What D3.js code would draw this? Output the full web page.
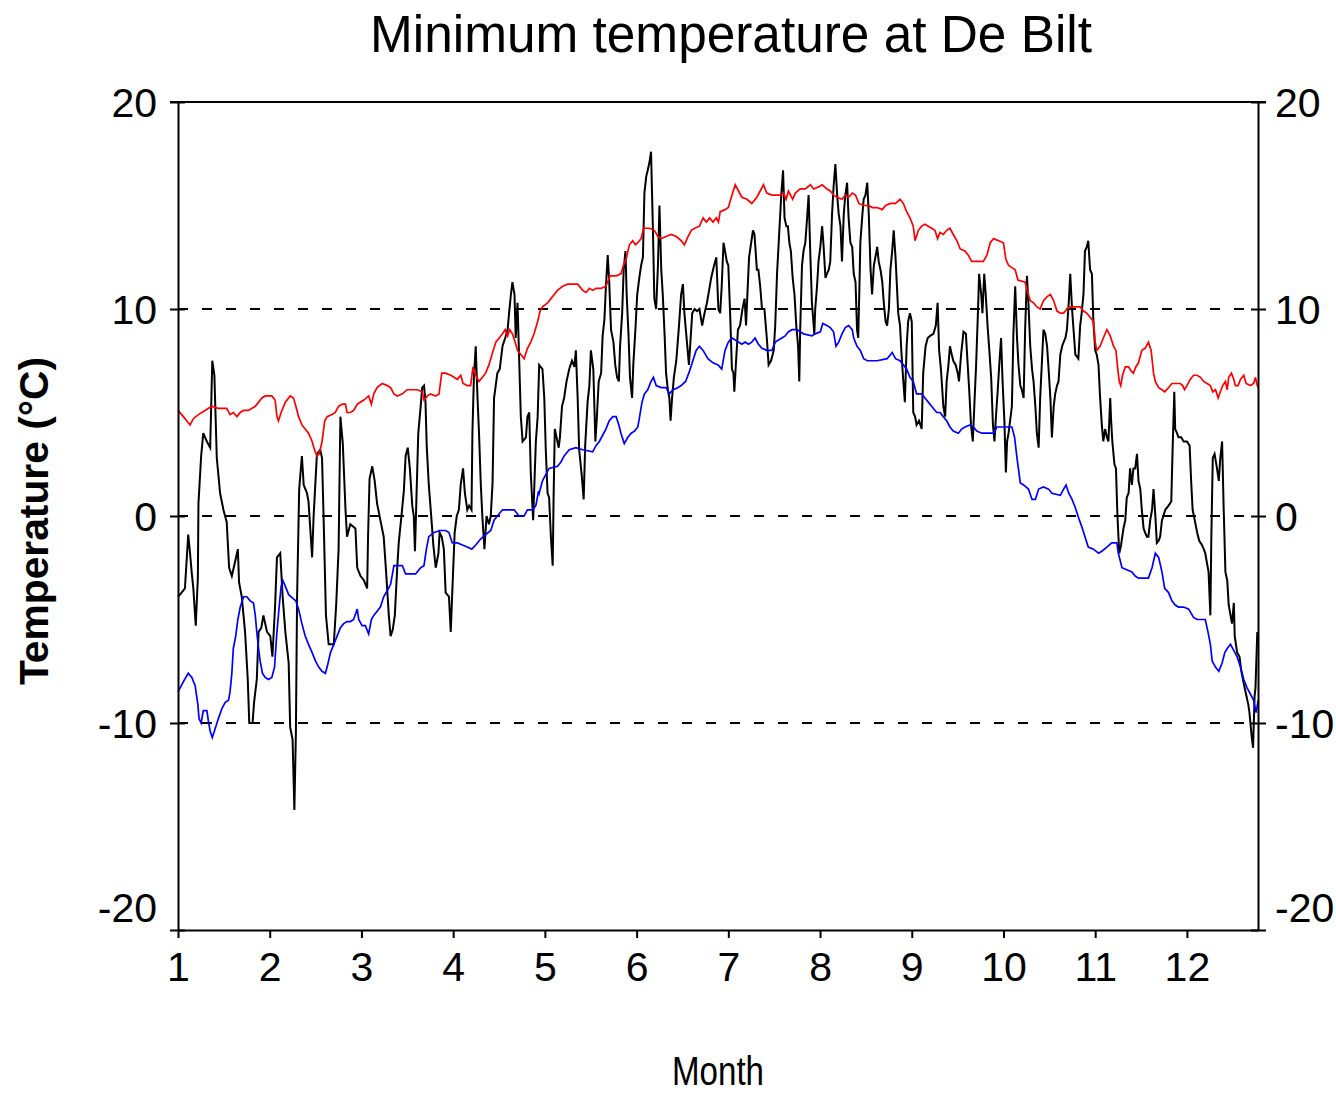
<!DOCTYPE html>
<html>
<head>
<meta charset="utf-8">
<script src="https://cdn.jsdelivr.net/npm/d3@7"></script>
<style>
  body { margin: 0; background: #fff; }
  text { font-family: "Liberation Sans", Arial, sans-serif; fill: #000; }
</style>
</head>
<body>
<div class="canvas"></div>
<script>
// tick values
const months = [1, 2, 3, 4, 5, 6, 7, 8, 9, 10, 11, 12];
const tempTicks = [-20, -10, 0, 10, 20];
const gridTemps = [-10, 0, 10];

// [day of year (0 = 1 Jan), temperature °C]
const dailyMin = [
  [0,-3.9],[1.2,-3.7],[2.3,-3.5],[3.4,-0.9],[4,-1.8],[4.6,-2.8],[5.1,-3.5],[5.9,-5.3],[6.6,-3],[6.8,0.6],
  [7.7,2.9],[8.4,4],[9.6,3.6],[10.7,3.3],[11.4,7.5],[12.1,6.8],[12.9,2.8],[14,1.1],[15.1,0.3],[16.2,-0.3],
  [17,-2.5],[17.9,-2.9],[19,-2.2],[19.9,-1.6],[20.3,-3.2],[21.2,-3.9],[22.3,-5.6],[23.2,-7.9],[23.7,-10],[24.8,-10],
  [25.3,-9],[26.2,-7.9],[26.8,-5.6],[27.7,-5.4],[28.4,-4.8],[29.6,-5.6],[30.7,-5.8],[31.4,-6.8],[32.3,-4.3],[32.9,-2],
  [34,-1.8],[34.8,-3.9],[35.7,-5.6],[36.8,-7.1],[37.3,-10.2],[38.1,-10.8],[38.7,-14.2],[39.2,-10.5],[39.6,-3.9],[40.3,1.3],
  [41.2,2.9],[41.8,1.5],[42.9,1.1],[43.4,0.7],[44.6,-2],[45.1,0],[46.2,3],[47.3,3.2],[47.9,2.8],[48.4,0],
  [49.2,-4.8],[50.1,-6.2],[51.8,-6.2],[52.6,-4.3],[53.4,-1.6],[54,4.8],[54.8,3.5],[55.7,0.3],[56.2,-1],[57.3,-0.4],
  [59,-0.6],[59.6,-2.5],[60.7,-2.9],[61.8,-3.1],[62.9,-3.5],[63.2,-1],[63.7,1.8],[64.6,2.4],[65.4,1.7],[66.2,0.6],
  [67.3,-0.2],[68.4,-1],[69.2,-2.7],[70.1,-4.8],[70.7,-5.8],[71.4,-5.5],[72.1,-4.8],[72.9,-2.5],[73.4,-1.3],[74.3,0],
  [75.1,1.2],[75.7,2.9],[76.4,3.3],[77.1,2.3],[77.9,0.5],[78.4,0],[78.8,-1.7],[79.3,0.9],[79.9,4],[80.7,5.3],
  [81.2,6.2],[81.8,6.3],[82.3,5.5],[82.7,3.4],[83.4,1.5],[84.3,-0.2],[84.9,-1.4],[85.7,-2.5],[86.6,-1.8],[87,-0.8],
  [87.7,-1],[88.4,-1.6],[89,-3.7],[90.1,-3.9],[90.7,-5.6],[91.2,-3.7],[92,-0.8],[92.7,0],[93.4,0.3],[94,1.5],
  [94.8,2.3],[95.4,1.1],[96.2,0.3],[96.8,0.5],[97.6,0.3],[97.9,4],[98.4,6.7],[99,8.2],[99.6,5.7],[100.1,4],
  [100.7,1.5],[101.2,0],[101.9,-1.6],[102.6,0],[103.4,-0.4],[104,0],[104.6,1.6],[105.1,5.7],[106.2,6.9],[107,7.1],
  [107.9,8.2],[108.8,8.6],[109.6,9],[110.1,9.8],[110.7,10.7],[111.2,11.3],[111.9,10.7],[112.3,8.6],[112.9,10.3],[113.4,7.8],
  [114,4.8],[114.6,3.6],[115.7,3.8],[116.2,4.8],[116.8,5],[117.3,2.1],[118.1,-0.2],[119,3.6],[119.6,4.8],[120.1,7.3],
  [121.2,7.1],[121.8,5.7],[122.3,3.2],[122.9,1.1],[123.4,0.9],[124,-1],[124.6,-2.4],[124.9,0.9],[125.3,4.2],[125.9,3.8],
  [126.6,3.3],[127,3.8],[127.7,5.3],[128.4,5.7],[129.2,6.5],[130.1,7.1],[131,7.5],[131.8,7.2],[132.3,8],[132.9,5.7],
  [133.4,3.2],[134.3,1.9],[134.9,0.8],[135.4,3.4],[136.2,5.5],[136.8,6.3],[137.3,8],[138.1,7.1],[138.8,3.6],[139.3,4.8],
  [139.9,6.5],[140.7,6.9],[141.2,8.7],[141.8,9.5],[142.3,11.1],[142.9,12.6],[143.4,11.3],[144,9],[144.8,8.4],[145.4,7.3],
  [146,6.7],[146.6,6.5],[147,8.2],[147.7,9.8],[148.2,11.9],[148.8,12.8],[149.2,10.7],[149.8,8.8],[150.3,6.7],[151,5.7],
  [151.4,7.3],[152.1,9],[152.7,10.7],[153.4,11.5],[154,12.1],[154.6,12.5],[155.1,15.6],[155.7,16.4],[156.2,16.7],[156.8,17.1],
  [157.3,17.6],[157.9,14],[158.4,10.5],[159,10],[159.6,12.1],[160.1,15],[160.7,11.9],[161.2,10.7],[161.8,8.8],[162.3,6.9],
  [162.9,6.1],[163.4,5.7],[163.8,4.6],[164.3,5.7],[164.9,6.7],[165.7,7.5],[166.6,9.2],[167.3,10.7],[167.9,11.2],[168.4,9.8],
  [169,8.8],[169.9,7.3],[170.3,8.2],[171,9.8],[171.8,10],[172.6,9.9],[173.4,10],[174.3,9.2],[175.1,9.8],[175.9,10.3],
  [176.6,10.9],[177.3,11.5],[178.1,12],[179,12.5],[179.7,10],[180.3,9.8],[180.8,11.1],[181.4,13.2],[181.9,12.8],[182.5,12.3],
  [183,12.1],[183.6,9.8],[184.2,7.1],[184.7,6.9],[185,6],[185.5,7.3],[186.2,9],[186.9,9.2],[187.7,10],[188.4,10.5],
  [188.9,9.2],[189.4,10.9],[189.9,12.5],[190.6,13.2],[191.2,13.8],[191.7,13.6],[192.5,11.9],[193,11.9],[193.6,11.1],[194.2,10],
  [195,10],[195.8,8.6],[196.4,7.3],[197.2,7.5],[198.1,8],[198.6,9.2],[199.2,11.7],[199.9,13.6],[200.6,15.5],[201.2,16.7],
  [201.7,14.4],[202.3,14],[202.8,14],[203.3,13.2],[203.8,12.8],[204.4,11.5],[205,10.7],[205.6,9.2],[206.2,8.2],[206.6,6.5],
  [206.9,9],[207.5,12.1],[208,12.8],[208.6,13.2],[209.2,14.4],[209.7,15.5],[210.3,12.5],[210.8,10.3],[211.6,8.8],[211.9,10],
  [212.5,11.1],[213,12.3],[213.6,13],[214.2,14],[214.7,13],[215.3,11.5],[215.8,11.7],[216.4,11.9],[216.9,12.3],[217.5,14.6],
  [218,15.9],[218.6,17],[219.2,15.5],[219.7,14.6],[220.3,14],[220.8,12.3],[221.4,14.6],[221.9,15.5],[222.5,16.1],[223,14.4],
  [223.6,13.2],[224.2,13],[224.7,11.7],[225.3,11.3],[225.8,9],[226.2,8.6],[226.6,11.1],[226.9,13.2],[227.5,14.4],[228,15.3],
  [228.6,15.5],[229.2,16.1],[229.7,14.6],[230.3,11.9],[230.8,10.7],[231.4,12.1],[231.9,12.5],[232.5,13],[233,12.3],[233.6,11.9],
  [234.2,11.3],[234.7,10.3],[235.3,9.4],[235.8,9.2],[236.4,10],[236.9,11.9],[237.5,12.8],[238,13.8],[238.6,12.5],[239.5,9.8],
  [240.1,9.2],[240.6,7.8],[241.2,6.5],[241.7,5.5],[242.3,8.2],[242.8,9.4],[243.4,9.8],[244,9.4],[244.5,5],[245.1,4.8],
  [245.6,4.4],[246.4,4.6],[247.3,4.2],[247.8,6.9],[248.6,8.2],[249.3,8.6],[250.1,8.7],[251.2,8.8],[252,9.2],[252.6,10.3],
  [253.1,8],[253.7,7.1],[254.5,5.3],[255.1,4.8],[255.6,6.5],[256.2,7.3],[256.7,8.2],[257.3,7.8],[257.8,7.5],[258.6,7.3],
  [259.3,6.9],[259.7,6.5],[260.4,7.8],[261.2,8.9],[262,8.8],[262.6,7.3],[263.1,6.1],[263.7,4.4],[264.3,3.6],[264.8,5.3],
  [265.4,7.3],[266,9.8],[266.4,11.7],[267.1,10.7],[267.5,9.8],[268.1,11.7],[268.6,10.7],[269.2,9.2],[269.8,8],[270.4,6.7],
  [271,4.4],[271.5,3.6],[272,4.8],[272.6,6.1],[273.1,7.3],[273.7,8.6],[274.2,6.5],[274.8,4.6],[275.3,2.1],[275.7,3.6],
  [276.2,4],[276.7,4.6],[277.3,5.3],[277.8,8.8],[278.4,11.1],[279,8.6],[279.5,7.3],[280.1,6.3],[280.6,6.1],[281.2,5.7],
  [281.7,9],[282.3,11.6],[282.8,10.3],[283.4,8.2],[284,7.1],[284.5,6.5],[285.1,5.3],[285.6,4],[286.2,3.3],[286.7,5.7],
  [287.3,7.5],[287.8,9],[288.4,8.8],[289,8.2],[289.5,7.1],[290.1,5.7],[290.6,3.8],[291.2,5.3],[291.7,5.9],[292.3,6.3],
  [292.8,6.5],[293.4,7.8],[294,8.2],[294.5,8.4],[295.1,8.6],[295.6,9],[296.2,10.3],[296.7,11.7],[297.3,10],[297.8,9],
  [298.4,7.8],[299.4,7.6],[300,9.2],[300.5,9.8],[301.1,10.7],[301.6,12.8],[302.2,13],[302.7,13.3],[303.3,11.9],[303.9,11.7],
  [304.4,9.4],[305,8],[305.5,7.8],[306.1,7.3],[306.6,5.8],[307.2,4.4],[307.7,3.6],[308.3,4.2],[308.9,3.8],[309.4,3.6],
  [310,5.7],[310.3,4.6],[310.7,3.6],[311.4,2.5],[311.9,2.3],[312.4,0],[313,-1.8],[313.6,-1.4],[314.4,-0.6],[315,-0.2],
  [315.5,0.9],[316.1,1.1],[316.6,2.3],[317.2,1.5],[317.7,2.3],[318.3,2.3],[318.9,3],[319.4,1.7],[320,1.3],[320.5,0.3],
  [321.1,-0.6],[321.6,-0.8],[322.2,-1],[322.7,-1],[323.3,-0.2],[323.9,0.3],[324.4,1.3],[325,0],[325.5,-1.3],[326.1,-1.2],
  [326.6,-1],[327.2,-0.2],[327.7,0],[328.3,0.3],[329.4,0.5],[330.3,0.7],[330.7,3],[331.3,6],[331.6,4.2],[332.2,4],
  [332.7,3.8],[333.6,3.8],[334.4,3.6],[335.5,3.6],[336.4,3.4],[336.9,1.7],[337.4,0.3],[338.1,-0.2],[338.9,-0.8],[339.6,-1.2],
  [340.5,-1.4],[341.1,-1.6],[341.6,-1.8],[342.2,-2.3],[342.7,-2.7],[343.3,-4.8],[343.6,-1.2],[344.1,2.8],[344.7,3],[345.5,2.3],
  [346.1,1.7],[346.6,2.8],[347.2,3.6],[347.7,0.5],[348.3,-2.7],[348.9,-3.1],[349.4,-4.3],[350,-4.8],[350.5,-5.2],[351.1,-4.2],
  [351.4,-5.8],[352.2,-6.6],[353,-6.8],[353.6,-7.5],[354.4,-8.1],[355,-8.5],[355.9,-9.1],[356.3,-9.5],[357,-10.6],[357.5,-11.2],
  [358,-8.7],[358.3,-8.3],[358.9,-5.6],[359.2,-5.8]
];

// upper (red) curve
const upperCurve = [
  [0,5.1],[1.8,4.8],[2.9,4.6],[4,4.4],[5.1,4.7],[6.8,4.9],[9,5.1],[11.2,5.3],[13.4,5.2],[16.2,5.2],
  [17.3,4.9],[18.4,5],[19.6,4.8],[20.7,5],[21.8,5.1],[23.4,5.1],[25.7,5.3],[26.8,5.5],[27.9,5.7],[29,5.8],
  [31.2,5.8],[32.3,5.6],[32.9,4.8],[33.4,4.6],[34.3,5],[35.7,5.5],[37.3,5.8],[38.4,5.7],[39.2,5.3],[40.1,4.8],
  [41.2,4.4],[42.3,4.2],[43.4,4],[44.6,3.6],[45.4,3.2],[46.2,2.9],[47,3],[47.9,3.6],[48.8,4.6],[49.6,4.8],
  [51.2,4.9],[52.3,5],[53.4,5.3],[54.6,5.4],[55.7,5.4],[56.2,5],[57.3,5],[58.4,5.1],[59.6,5.4],[61.8,5.6],
  [63.4,5.8],[64.3,5.4],[65.1,5.9],[66.2,6.2],[67.9,6.4],[69.6,6.3],[70.7,6.2],[71.8,5.9],[72.9,5.8],[74.6,5.9],
  [76.2,6.1],[79.6,6.1],[81.2,6],[81.8,5.6],[82.9,5.8],[84,5.9],[85.7,5.8],[86.8,5.9],[87.7,6.9],[89,6.9],
  [90.7,6.8],[91.8,6.7],[92.9,6.6],[94,6.8],[94.8,6.4],[96.2,6.3],[97.3,6.3],[98.1,7.2],[99,6.8],[100.1,6.5],
  [101.2,6.7],[102.3,6.9],[103.4,7.3],[104.6,7.9],[105.7,8.4],[106.8,8.6],[107.9,8.8],[108.8,9],[109.6,8.7],[110.3,9],
  [111.2,8.8],[112.1,8.4],[112.9,8],[114,7.8],[115.1,7.6],[116.2,8.1],[117.3,8.4],[118.4,8.8],[119.6,9.4],[120.4,9.9],
  [121.2,10.1],[122.9,10.3],[124,10.5],[125.1,10.7],[126.2,10.9],[127.9,11.1],[129.6,11.2],[132.9,11.2],[134.6,10.9],[135.7,10.8],
  [136.8,11],[137.9,10.9],[139,11],[140.7,11],[142.3,11.1],[143.7,11.6],[145.7,11.6],[147.3,11.7],[148.1,12.1],[149,12.4],
  [150.1,13.1],[151.2,13.3],[152.1,13.1],[152.9,13.2],[154,13.4],[154.8,13.9],[156.8,13.9],[158.4,13.8],[159.6,13.5],[160.7,13.4],
  [162.3,13.5],[164,13.6],[165.7,13.5],[167.3,13.3],[168.4,13.1],[169.6,13.5],[170.7,13.8],[171.8,13.9],[173.4,14],[174.6,14.4],
  [175.7,14.2],[176.8,14.4],[177.9,14.2],[179,14.4],[179.7,14.2],[180.3,14.7],[181.9,14.8],[183,14.9],[184.2,15.5],[185.3,16],
  [186.4,15.7],[187.5,15.4],[189.2,15.3],[190.8,15.1],[192.5,15.4],[193.6,15.7],[194.7,16],[195.8,15.6],[197.5,15.5],[200.3,15.5],
  [201.4,15.6],[202.2,15.3],[203,15.7],[204.4,15.3],[205.3,15.6],[206.9,15.8],[208.6,15.8],[210.3,16],[211.4,15.8],[213,15.9],
  [214.2,16],[215.8,15.8],[216.9,15.7],[218,15.5],[219.2,15.4],[220.8,15.3],[221.9,15.5],[223,15.4],[224.2,15.6],[225.3,15.5],
  [226.4,15.1],[228,15],[229.7,15],[230.8,14.9],[232.5,14.9],[234.2,14.8],[235.3,15],[236.9,15.1],[238.6,15.1],[240.1,15.3],
  [241.2,15.1],[242.3,14.7],[243.4,14.4],[244.5,14],[245.1,13.3],[246.2,13.8],[247.3,14],[248.4,14.1],[249.5,14],[250.6,13.9],
  [251.7,13.8],[252.6,13.4],[253.4,13.7],[254.5,13.6],[255.6,13.8],[256.7,13.9],[257.8,13.6],[259,13.3],[260.1,12.9],[261.7,12.8],
  [262.8,12.6],[263.9,12.3],[267.8,12.3],[269,12.6],[270.1,13.2],[271.2,13.4],[272.9,13.3],[274.5,13.2],[275.3,12.4],[276.2,12.1],
  [277.3,12],[278.4,11.9],[279.3,11.4],[281.7,11.3],[282.6,10.8],[283.4,10.4],[284.5,10.3],[285.6,10.1],[286.7,10],[287.8,10.4],
  [289,10.6],[290.1,10.7],[291.2,10.4],[292.3,9.9],[293.4,9.8],[294.5,9.8],[295.6,10],[296.7,10.1],[300,10.1],[301.1,9.9],
  [302.2,9.8],[303.3,9.6],[304.4,9.4],[305,8.4],[305.5,8],[306.6,8.2],[307.7,8.6],[308.9,9],[310,8.7],[311.1,8.2],
  [311.9,8],[312.5,7.1],[313,6.5],[313.5,6.3],[314.1,6.8],[315,7.2],[316.1,7.2],[317,7],[317.7,6.9],[318.5,7.2],
  [319.4,7.4],[320.5,8],[321.6,8.1],[322.7,8.4],[323.6,8],[324.4,6.9],[325,6.5],[326.1,6.2],[327.2,6.1],[328.1,6],
  [329.4,6.2],[330.5,6.4],[333.3,6.4],[334.1,6.3],[334.7,6.1],[335.5,6.3],[336.6,6.6],[337.7,6.8],[338.9,6.8],[340,6.7],
  [341.1,6.5],[342.2,6.4],[343.3,6.3],[344.1,6],[345,6.1],[345.9,5.7],[346.6,6],[347.4,6.3],[348.3,6.5],[348.9,6.1],
  [349.4,6.7],[350.3,6.9],[351.1,6.6],[351.6,6.3],[352.5,6.3],[353.3,6.6],[354.4,6.8],[355.2,6.4],[356.6,6.3],[357.7,6.4],
  [358.3,6.7],[358.9,6.3],[359.2,6.2]
];

// lower (blue) curve
const lowerCurve = [
  [0,-8.5],[1.8,-8],[3.4,-7.6],[4.6,-7.8],[5.7,-8.2],[6.6,-9.1],[7,-9.8],[7.7,-10],[8.4,-9.4],[9.6,-9.4],
  [10.1,-9.9],[10.7,-10.4],[11.4,-10.7],[12.3,-10.3],[13.4,-9.8],[14.6,-9.3],[15.7,-9],[16.8,-8.9],[17.3,-8.5],[17.9,-7.6],
  [18.4,-6.4],[19.2,-5.8],[19.9,-5],[20.7,-4.4],[21.8,-3.9],[22.9,-3.9],[24,-4.1],[25.1,-4.2],[25.7,-4.8],[26.2,-5.6],
  [26.8,-6.4],[27.3,-7],[28.1,-7.6],[29,-7.8],[30.1,-7.9],[31.2,-7.8],[32.1,-7.3],[32.9,-5.6],[33.7,-4.3],[34.3,-3.4],
  [34.8,-3.1],[35.7,-3.4],[36.8,-3.8],[38.4,-4],[39.2,-4.1],[40.1,-4.5],[41.2,-5.2],[42.3,-5.8],[43.4,-6.2],[44.6,-6.6],
  [45.7,-7],[46.8,-7.3],[47.9,-7.5],[49,-7.6],[49.6,-7.3],[50.7,-6.6],[51.8,-6.2],[52.9,-5.8],[54,-5.4],[55.1,-5.2],
  [56.2,-5.1],[57.3,-5.1],[58.4,-5],[59.6,-4.5],[60.1,-5],[61.2,-5.3],[62.3,-5.3],[63.4,-5.7],[64.3,-5],[65.1,-4.8],
  [66.2,-4.6],[67.3,-4.4],[68.4,-3.9],[69.6,-3.6],[70.7,-3.3],[71.8,-2.4],[74.6,-2.4],[75.7,-2.8],[79,-2.8],[80.7,-2.5],
  [81.8,-2.4],[82.6,-1.6],[83.4,-1],[85.1,-0.8],[87.3,-0.7],[89,-0.7],[90.1,-0.8],[91.2,-1.3],[92.9,-1.3],[94.6,-1.4],
  [96.2,-1.5],[97.7,-1.6],[99,-1.4],[100.7,-1.1],[102.3,-0.9],[104,-0.7],[105.1,-0.2],[106.2,0],[107.9,0.3],[111.8,0.3],
  [113.4,0],[115.1,0],[116.2,0.3],[117.9,0.3],[119,0.5],[119.9,1.2],[120.1,1.1],[121.2,1.7],[122.3,2],[123.4,2.3],
  [126.2,2.4],[127.3,2.6],[128.4,2.9],[130.1,3.2],[132.3,3.3],[134.6,3.2],[137.9,3.1],[139,3.4],[140.1,3.6],[141.2,3.9],
  [142.3,4.2],[143.4,4.6],[144.6,4.8],[145.7,4.8],[146.6,4.4],[147.3,4],[148.4,3.5],[149.6,3.8],[150.7,4],[151.8,4.1],
  [152.9,4.3],[153.4,4.7],[154.3,5.5],[155.1,5.9],[156.2,6.1],[157.3,6.5],[158.1,6.7],[159,6.3],[160.7,6.2],[162.3,6.2],
  [163.4,5.9],[164.6,6.1],[166.2,6.2],[167.3,6.3],[168.8,6.5],[170.1,7],[171.2,7.5],[172.3,8],[173.4,8.2],[174.6,8],
  [176.2,7.6],[177.9,7.4],[179.6,7.3],[180.8,7.1],[181.9,8],[183,8.4],[184.2,8.6],[185.3,8.5],[187.5,8.3],[188.6,8.4],
  [189.7,8.3],[190.8,8.4],[191.9,8.6],[193,8.3],[194.2,8.1],[195.8,8],[197.5,8],[198.6,8.4],[199.7,8.5],[200.8,8.6],
  [201.9,8.7],[203,8.9],[204.2,9],[205.8,9],[206.9,8.9],[208,8.8],[210.8,8.7],[211.9,8.8],[213.6,8.9],[214.4,9.3],
  [215.8,9.2],[216.9,9.1],[218,8.9],[218.8,8.2],[219.7,8.4],[220.8,8.8],[221.9,9.1],[223,9.2],[224.2,9],[224.7,8.6],
  [225.8,8.2],[226.9,8],[228,7.6],[229.2,7.5],[232.5,7.5],[235.8,7.6],[237.5,7.9],[238.6,7.6],[240.1,7.5],[241.2,7.3],
  [242.3,7.1],[243.4,6.7],[244.5,6.5],[245.6,5.9],[247.3,5.9],[248.4,5.7],[249.5,5.5],[250.6,5.3],[252.3,5],[253.4,5],
  [254.5,4.8],[255.6,4.6],[256.7,4.3],[257.8,4.1],[259.5,4],[260.6,4.2],[261.7,4.3],[263.4,4.4],[264.5,4.3],[265.6,4.1],
  [267.3,4],[271.2,4],[272.3,4.3],[277.3,4.3],[278.2,3.8],[279,2.8],[280.1,1.6],[281.2,1.5],[282.8,1.3],[284,0.8],
  [285.1,0.8],[286.2,1.3],[287.8,1.4],[289.5,1.3],[290.6,1.1],[293.4,1],[294.5,1.3],[295.3,1.5],[296.2,1.1],[297.3,0.8],
  [298.4,0.4],[299.5,-0.1],[300.5,-0.5],[301.6,-1],[302.7,-1.5],[304.4,-1.6],[306.1,-1.8],[307.2,-1.7],[308.9,-1.5],[310.5,-1.3],
  [312.2,-1.3],[312.7,-1.8],[313.9,-2.5],[315.5,-2.6],[317.2,-2.7],[318.3,-2.9],[319.4,-3],[322.7,-3],[323.9,-2.5],[325,-1.8],
  [326.1,-2],[327.2,-2.7],[328.1,-3.5],[329.4,-3.7],[330.5,-4.1],[331.6,-4.3],[332.7,-4.4],[334.4,-4.4],[336.1,-4.5],[337.7,-4.9],
  [338.9,-5],[341.6,-5],[342.5,-5.6],[343.3,-6.2],[343.9,-7],[345,-7.3],[346.1,-7.5],[347.2,-7.1],[348.1,-6.6],[348.9,-6.4],
  [350,-6.2],[351.1,-6.5],[352.2,-6.8],[353.3,-7.3],[354.4,-7.9],[355.5,-8.3],[356.6,-8.6],[357.7,-8.9],[358.5,-9.5],[359.2,-8.9]
];

const DAYS_PER_MONTH = 30.5;
const dims = { width: 1336, height: 1096 };
const margin = { top: 102, right: 78, bottom: 166, left: 178 };
const plotW = dims.width - margin.left - margin.right;
const plotH = dims.height - margin.top - margin.bottom;
const FONT = 41;

const svg = d3.select('.canvas')
  .append('svg')
  .attr('width', dims.width)
  .attr('height', dims.height)

const graph = svg.append('g')
  .attr('transform', `translate(${margin.left}, ${margin.top})`)

// month axis runs from 1 Jan (1) to the end of the record
const x = d3.scaleLinear().domain([1, 12.775]).range([0, plotW]);
const y = d3.scaleLinear().domain([-20, 20]).range([plotH, 0]);

const line = d3.line()
  .x(d => x(1 + d[0] / DAYS_PER_MONTH))
  .y(d => y(d[1]))

// dashed reference lines
graph.selectAll('line.grid')
  .data(gridTemps)
  .enter().append('line')
  .attr('class', 'grid')
  .attr('x1', 0).attr('x2', plotW)
  .attr('y1', d => y(d)).attr('y2', d => y(d))
  .attr('stroke', '#000')
  .attr('stroke-width', 2)
  .attr('stroke-dasharray', '10,14')

// series
graph.append('path').datum(dailyMin)
  .attr('d', line).attr('fill', 'none')
  .attr('stroke', '#000').attr('stroke-width', 2)
graph.append('path').datum(upperCurve)
  .attr('d', line).attr('fill', 'none')
  .attr('stroke', '#ff0000').attr('stroke-width', 1.7)
graph.append('path').datum(lowerCurve)
  .attr('d', line).attr('fill', 'none')
  .attr('stroke', '#0000ff').attr('stroke-width', 1.7)

// axes (plain hyphen for negatives, as in the original)
const plainNum = d => String(d);
const styleAxis = g => {
  g.select('.domain').attr('stroke-width', 2);
  g.selectAll('.tick line').attr('stroke-width', 2);
  g.selectAll('.tick text').style('font-size', FONT + 'px');
};

const yLeft = graph.append('g')
  .call(d3.axisLeft(y).tickValues(tempTicks).tickFormat(plainNum).tickSize(8).tickSizeOuter(0).tickPadding(13))
  .call(styleAxis)
yLeft.selectAll('.tick line').attr('x1', 7)
yLeft.selectAll('.tick text').attr('dy', d => d === -20 ? '-0.2em' : '0.35em')

const yRight = graph.append('g')
  .attr('transform', `translate(${plotW}, 0)`)
  .call(d3.axisRight(y).tickValues(tempTicks).tickFormat(plainNum).tickSize(8).tickSizeOuter(0).tickPadding(9))
  .call(styleAxis)
yRight.selectAll('.tick line').attr('x1', -7)
yRight.selectAll('.tick text').attr('dy', d => d === -20 ? '-0.2em' : '0.35em')

graph.append('g')
  .attr('transform', `translate(0, ${plotH})`)
  .call(d3.axisBottom(x).tickValues(months).tickFormat(plainNum).tickSize(8).tickSizeOuter(0).tickPadding(14))
  .call(styleAxis)

// top border
graph.append('line')
  .attr('x1', -8).attr('x2', plotW + 8)
  .attr('y1', y(20)).attr('y2', y(20))
  .attr('stroke', '#000').attr('stroke-width', 2)

// labels
svg.append('text')
  .attr('x', 731).attr('y', 52)
  .attr('text-anchor', 'middle')
  .attr('textLength', 722).attr('lengthAdjust', 'spacingAndGlyphs')
  .style('font-size', '51px')
  .text('Minimum temperature at De Bilt')

svg.append('text')
  .attr('transform', 'translate(48, 521) rotate(-90)')
  .attr('text-anchor', 'middle')
  .attr('textLength', 328).attr('lengthAdjust', 'spacingAndGlyphs')
  .style('font-size', '41px').style('font-weight', 'bold')
  .text('Temperature (°C)')

svg.append('text')
  .attr('x', 718).attr('y', 1085)
  .attr('text-anchor', 'middle')
  .attr('textLength', 92).attr('lengthAdjust', 'spacingAndGlyphs')
  .style('font-size', '40px')
  .text('Month')
</script>
</body>
</html>
